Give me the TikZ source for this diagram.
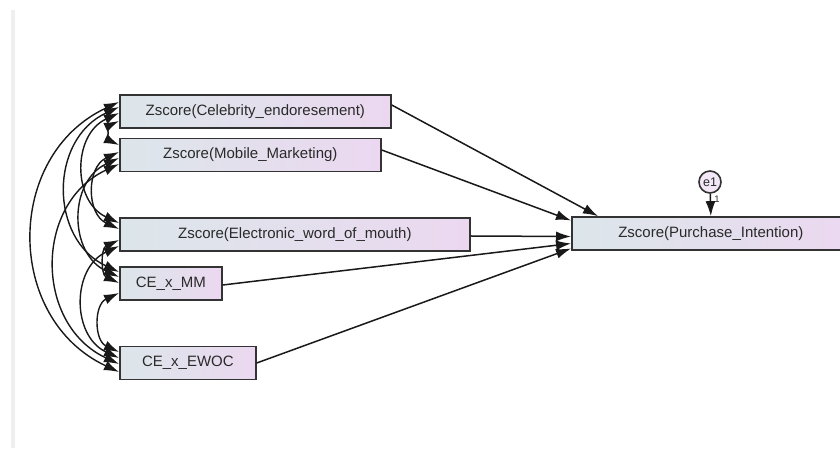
\documentclass[tikz,border=0pt]{standalone}
\usepackage{fontspec}
\setmainfont{Liberation Sans}
\usetikzlibrary{arrows.meta}
\definecolor{edge}{HTML}{333333}
\definecolor{ink}{HTML}{2A2A2A}
\definecolor{fillL}{HTML}{DCE6EA}
\definecolor{fillR}{HTML}{EBD8F0}
\definecolor{strip}{HTML}{EFEFEF}
\begin{document}
\begin{tikzpicture}[x=1pt,y=1pt,
  tip/.tip={Latex[length=15pt,width=10pt]},
  box/.style={draw=edge, line width=1.7pt, left color=fillL, right color=fillR,
    minimum height=33pt, inner sep=0pt, anchor=west, text=ink,
    font=\fontsize{15}{18}\selectfont},
  reg/.style={draw=black!90, line width=1.5pt, -tip},
  cov/.style={draw=black!90, line width=1.4pt, tip-tip,
    bend right=65, looseness=1.2},
]
\useasboundingbox (0,0) rectangle (840,460);
\clip (0,0) rectangle (840,460);
\fill[white] (0,0) rectangle (840,460);
\fill[strip] (11,12) rectangle (15,450);

% observed variables
\node[box, minimum width=271pt] (ce) at (119,348.5) {Zscore(Celebrity\_endoresement)};
\node[box, minimum width=261pt] (mm) at (119,305) {Zscore(Mobile\_Marketing)};
\node[box, minimum width=350pt] (ewom) at (119,225.5) {Zscore(Electronic\_word\_of\_mouth)};
\node[box, minimum width=102pt] (cexmm) at (119,176.5) {CE\_x\_MM};
\node[box, minimum width=136pt] (cexewoc) at (119,97) {CE\_x\_EWOC};
\node[box, minimum width=278pt] (pi) at (571,226.5) {Zscore(Purchase\_Intention)};

% error term
\node[circle, draw=edge, line width=1.6pt, fill=fillR!60!white, minimum size=22pt,
  inner sep=0pt, text=ink, font=\fontsize{12.5}{14}\selectfont] (e1) at (710,278) {e1};
\node[text=ink, font=\fontsize{9.5}{10}\selectfont, inner sep=0pt] (one) at (717,261) {1};
\draw[reg] (e1) -- (pi.north);

% regression paths
\draw[reg] ([yshift=6.5pt]ce.east) -- ([xshift=27pt]pi.north west);
\draw[reg] ([yshift=5pt]mm.east) -- ([yshift=13pt]pi.west);
\draw[reg] ([yshift=-1.5pt]ewom.east) -- ([yshift=-3pt]pi.west);
\draw[reg] ([yshift=-1.5pt]cexmm.east) -- ([yshift=-10pt]pi.west);
\draw[reg] (cexewoc.east) -- ([yshift=-15pt]pi.west);

% covariances
\draw[cov] ([yshift=9.5pt]ce.west) to ([yshift=-9pt]cexewoc.west);
\draw[cov] ([yshift=4.5pt]ce.west) to ([yshift=11.5pt]cexmm.west);
\draw[cov] ([yshift=-1.5pt]ce.west) to ([yshift=11.5pt]ewom.west);
\draw[cov] ([yshift=-9.5pt]ce.west) to ([yshift=10pt]mm.west);
\draw[cov] ([yshift=3pt]mm.west) to ([yshift=5.5pt]ewom.west);
\draw[cov] ([yshift=-3pt]mm.west) to ([yshift=6.5pt]cexmm.west);
\draw[cov] ([yshift=-9pt]mm.west) to ([yshift=-1pt]cexewoc.west);
\draw[cov] ([yshift=-5.5pt]ewom.west) to ([yshift=0.5pt]cexmm.west);
\draw[cov] ([yshift=-11.5pt]ewom.west) to ([yshift=5pt]cexewoc.west);
\draw[cov] ([yshift=-9.5pt]cexmm.west) to ([yshift=11pt]cexewoc.west);
\end{tikzpicture}
\end{document}
